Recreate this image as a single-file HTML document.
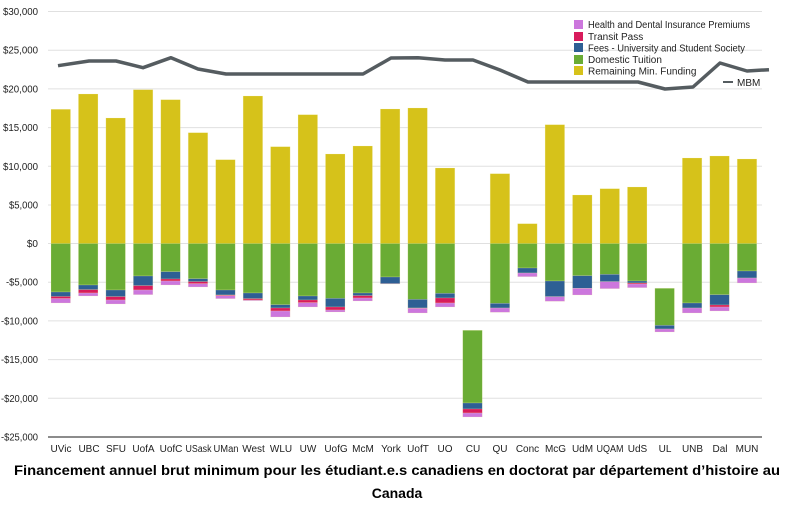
<!DOCTYPE html>
<html><head><meta charset="utf-8"><style>
html,body{margin:0;padding:0;background:#fff;}
svg{display:block;font-family:"Liberation Sans",Arial,sans-serif;}
</style></head><body>
<svg id="s" width="791" height="518" viewBox="0 0 791 518">
<g stroke="#e0e0e0" stroke-width="1">
<line x1="48" x2="762" y1="11.5" y2="11.5"/><line x1="48" x2="762" y1="50.2" y2="50.2"/>
<line x1="48" x2="762" y1="88.9" y2="88.9"/><line x1="48" x2="762" y1="127.6" y2="127.6"/>
<line x1="48" x2="762" y1="166.3" y2="166.3"/><line x1="48" x2="762" y1="205" y2="205"/>
<line x1="48" x2="762" y1="243.5" y2="243.5"/><line x1="48" x2="762" y1="282.2" y2="282.2"/>
<line x1="48" x2="762" y1="320.9" y2="320.9"/><line x1="48" x2="762" y1="359.6" y2="359.6"/>
<line x1="48" x2="762" y1="398.3" y2="398.3"/>
</g>
<line x1="48" x2="762" y1="437" y2="437" stroke="#666" stroke-width="1.5"/>
<g font-size="10" fill="#222" text-anchor="end" lengthAdjust="spacingAndGlyphs">
<text x="38" y="15" textLength="35" lengthAdjust="spacingAndGlyphs">$30,000</text><text x="38" y="53.7" textLength="35" lengthAdjust="spacingAndGlyphs">$25,000</text>
<text x="38" y="92.4" textLength="35" lengthAdjust="spacingAndGlyphs">$20,000</text><text x="38" y="131.1" textLength="35" lengthAdjust="spacingAndGlyphs">$15,000</text>
<text x="38" y="169.8" textLength="35" lengthAdjust="spacingAndGlyphs">$10,000</text><text x="38" y="208.5" textLength="29" lengthAdjust="spacingAndGlyphs">$5,000</text>
<text x="38" y="247">$0</text><text x="38" y="285.7" textLength="32" lengthAdjust="spacingAndGlyphs">-$5,000</text>
<text x="38" y="324.4" textLength="37" lengthAdjust="spacingAndGlyphs">-$10,000</text><text x="38" y="363.1" textLength="37" lengthAdjust="spacingAndGlyphs">-$15,000</text>
<text x="38" y="401.8" textLength="37" lengthAdjust="spacingAndGlyphs">-$20,000</text><text x="38" y="440.5" textLength="37" lengthAdjust="spacingAndGlyphs">-$25,000</text>
</g>
<g id="bars"></g>
<polyline fill="none" stroke="#555c60" stroke-width="3.5" stroke-linejoin="round" points="58,65.7 89,61 116,61 143,67.7 171,57.7 198,69 226,74 363,74 391,58 418,57.7 445,60 473,60 500,70 528,82 638,82 665,89 693,87 720,63 747,71 769,69.7"/>
<g font-size="10" fill="#222" text-anchor="middle">
<text x="61" y="452">UVic</text><text x="89" y="452">UBC</text><text x="116" y="452">SFU</text>
<text x="143.5" y="452">UofA</text><text x="171" y="452">UofC</text><text x="198.5" y="452" textLength="26" lengthAdjust="spacingAndGlyphs">USask</text>
<text x="226" y="452" textLength="25" lengthAdjust="spacingAndGlyphs">UMan</text><text x="253.5" y="452">West</text><text x="281" y="452">WLU</text>
<text x="308" y="452">UW</text><text x="336" y="452">UofG</text><text x="363" y="452">McM</text>
<text x="391" y="452">York</text><text x="418" y="452">UofT</text><text x="445" y="452">UO</text>
<text x="473" y="452">CU</text><text x="500" y="452">QU</text><text x="527.5" y="452">Conc</text>
<text x="555.5" y="452">McG</text><text x="582.5" y="452">UdM</text><text x="610" y="452" textLength="27" lengthAdjust="spacingAndGlyphs">UQAM</text>
<text x="637.5" y="452">UdS</text><text x="665" y="452">UL</text><text x="692.5" y="452">UNB</text>
<text x="720" y="452">Dal</text><text x="747" y="452">MUN</text>
</g>
<g font-size="10" fill="#222">
<rect x="574" y="20" width="9" height="9" fill="#cc77dd"/><text x="588" y="28" textLength="162" lengthAdjust="spacingAndGlyphs">Health and Dental Insurance Premiums</text>
<rect x="574" y="32" width="9" height="9" fill="#d81b5c"/><text x="588" y="40">Transit Pass</text>
<rect x="574" y="43" width="9" height="9" fill="#2e5f94"/><text x="588" y="51.5" textLength="157" lengthAdjust="spacingAndGlyphs">Fees - University and Student Society</text>
<rect x="574" y="55" width="9" height="9" fill="#6aac34"/><text x="588" y="63">Domestic Tuition</text>
<rect x="574" y="66" width="9" height="9" fill="#d6c21a"/><text x="588" y="74.5">Remaining Min. Funding</text>
<line x1="723" x2="733" y1="82" y2="82" stroke="#555c60" stroke-width="2"/><text x="737" y="86">MBM</text>
</g>
<g font-size="14" font-weight="bold" fill="#000" text-anchor="middle">
<text x="397" y="475" textLength="766" lengthAdjust="spacingAndGlyphs">Financement annuel brut minimum pour les étudiant.e.s canadiens en doctorat par département d’histoire au</text>
<text x="397" y="498">Canada</text>
</g>
</svg>
<script>
var d=[[109.3,243.5,292,296.5,298.5,303],[94,243.5,285,289.7,293,296],[118,243.5,290,296.7,300,304],
[89.7,243.5,276,285.7,290,294.7],[99.7,243.5,271.7,279,281,285],[132.7,243.5,278.7,281.7,283.7,287],
[159.7,243.5,290,295,295.7,298.7],[96,243.5,293,298.7,300,300.7],[146.7,243.5,304.7,308,311,317],
[114.7,243.5,296,300,302.7,307],[154,243.5,298.3,307,310,312],[146,243.5,293,295.7,298,301],
[109,243.5,277,283.7,283.7,284],[108,243.5,299.3,308,308.3,313],[168,243.5,293.3,298,303,307],
[243.5,330.3,403,409,413,417],[173.7,243.5,303.3,308,308,312.3],[223.7,243.5,268,273,273,276.7],
[124.7,243.5,281,296.7,296.7,301.3],[195,243.5,275.7,288.3,288.3,295],[188.7,243.5,274.3,281.7,281.7,288.7],
[187,243.5,281,283,284,287.7],[243.5,288.3,325.3,329,329,332],[158,243.5,303,308,308,313],
[156,243.5,294.7,305,307,311],[159,243.5,271,278,278,283]];
var c=["#d6c21a","#6aac34","#2e5f94","#d81b5c","#cc77dd"],g=document.getElementById("bars"),h="";
d.forEach(function(r,i){var x=51+i*27.45;
 function R(a,b,col){if(b-a>0.2)h+='<rect x="'+x+'" y="'+a+'" width="19.5" height="'+(b-a)+'" fill="'+col+'" stroke="#f3efb0" stroke-opacity="0.35" stroke-width="0.6"/>';}
 R(r[0],243.5,c[0]);R(r[1],r[2],c[1]);R(r[2],r[3],c[2]);R(r[3],r[4],c[3]);R(r[4],r[5],c[4]);});
g.innerHTML=h;
</script>
</body></html>
